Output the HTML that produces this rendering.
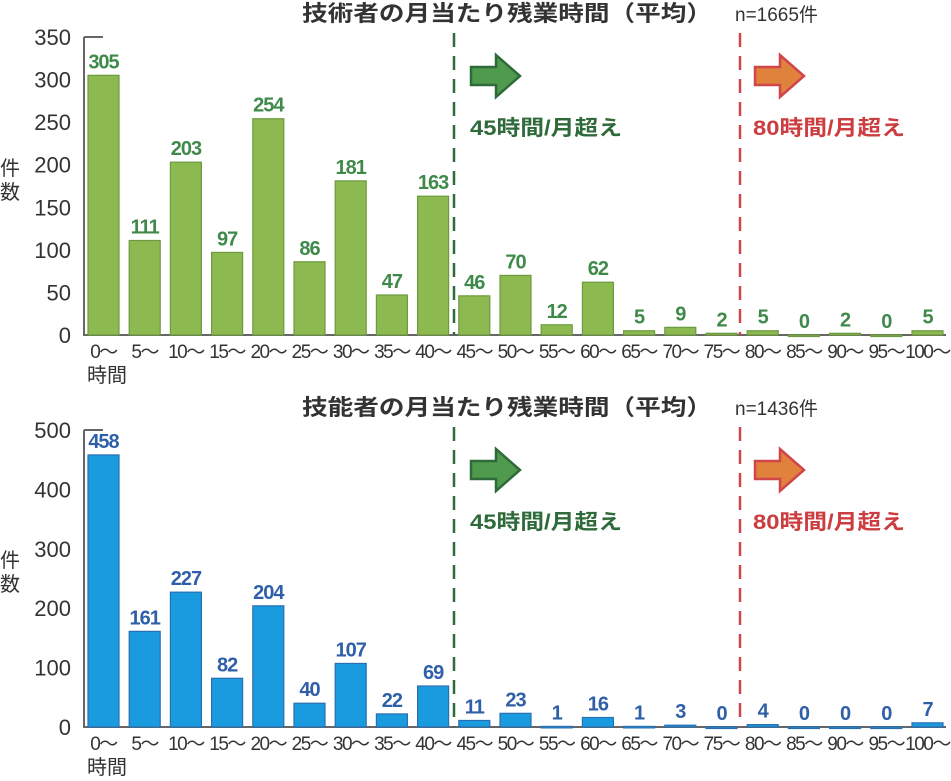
<!DOCTYPE html>
<html><head><meta charset="utf-8"><style>
html,body{margin:0;padding:0;background:#fff;width:951px;height:781px;overflow:hidden}
svg{display:block}
text{font-family:"Liberation Sans","Noto Sans CJK JP",sans-serif}
</style></head><body>
<svg id="s" width="951" height="781" xmlns="http://www.w3.org/2000/svg"></svg>
<script>
const s=document.getElementById('s');let h='';
const labs=['0～','5～','10～','15～','20～','25～','30～','35～','40～','45～','50～','55～','60～','65～','70～','75～','80～','85～','90～','95～','100～'];
function chart(o){
 const {y0,ymax,ppu,ticks,vals,fill,stroke,lc,title,n,ty}=o;
 h+=`<text x="507" y="${ty}" text-anchor="middle" font-size="22" font-weight="bold" fill="#333" textLength="410" lengthAdjust="spacingAndGlyphs">${title}</text>`;
 h+=`<text x="735" y="${ty}" font-size="19" fill="#333">${n}</text>`;
 const ytop=y0-ymax*ppu;
 h+=`<path d="M84 ${ytop}H103M84 ${ytop}V${y0}H946" stroke="#666" stroke-width="2" fill="none"/>`;
 for(const t of ticks){h+=`<text x="71" y="${y0-t*ppu+8}" text-anchor="end" font-size="22" fill="#333">${t}</text>`;}
 h+=`<text x="0" y="${y0-160}" font-size="20" fill="#333">件</text><text x="0" y="${y0-136}" font-size="20" fill="#333">数</text>`;
 vals.forEach((v,i)=>{
  const x=88+i*41.2,hh=v*ppu;
  h+=`<rect x="${x}" y="${y0-hh}" width="31" height="${Math.max(hh,1.5)}" fill="${fill}" stroke="${stroke}" stroke-width="1.2"/>`;
  h+=`<text x="${x+15.5}" y="${y0-hh-7}" text-anchor="middle" font-size="20" font-weight="bold" fill="${lc}" letter-spacing="-1">${v}</text>`;
  h+=`<text x="${x+15.5}" y="${y0+23}" text-anchor="middle" font-size="19" fill="#333" letter-spacing="-1.5">${labs[i]}</text>`;
 });
 h+=`<text x="87" y="${y0+47}" font-size="20" fill="#333">時間</text>`;
 h+=`<line x1="454" y1="${ty+12}" x2="454" y2="${y0}" stroke="#2f6b3a" stroke-width="2.5" stroke-dasharray="14,9"/>`;
 h+=`<line x1="740" y1="${ty+12}" x2="740" y2="${y0}" stroke="#d0454a" stroke-width="2.5" stroke-dasharray="14,9"/>`;
 const ay=ty+55;
 function arrow(x,f,st){return `<path d="M${x} ${ay-9}H${x+25}V${ay-21}L${x+49} ${ay}L${x+25} ${ay+21}V${ay+9}H${x}Z" fill="${f}" stroke="${st}" stroke-width="2.5"/>`;}
 h+=arrow(471,'#4f9a4c','#2f6b3a');
 h+=arrow(755,'#e0823c','#d0454a');
 h+=`<text x="470" y="${ty+114}" font-size="21" font-weight="bold" fill="#2f6b3a" textLength="152" lengthAdjust="spacingAndGlyphs">45時間/月超え</text>`;
 h+=`<text x="753" y="${ty+114}" font-size="21" font-weight="bold" fill="#cc3d40" textLength="152" lengthAdjust="spacingAndGlyphs">80時間/月超え</text>`;
}
chart({y0:335,ymax:350,ppu:298/350,ticks:[0,50,100,150,200,250,300,350],
 vals:[305,111,203,97,254,86,181,47,163,46,70,12,62,5,9,2,5,0,2,0,5],
 fill:'#8cba50',stroke:'#6d9a40',lc:'#3f8a4a',title:'技術者の月当たり残業時間（平均）',n:'n=1665件',ty:21});
chart({y0:727,ymax:500,ppu:297/500,ticks:[0,100,200,300,400,500],
 vals:[458,161,227,82,204,40,107,22,69,11,23,1,16,1,3,0,4,0,0,0,7],
 fill:'#1a9be0',stroke:'#2a6fb0',lc:'#2f5fa8',title:'技能者の月当たり残業時間（平均）',n:'n=1436件',ty:415});
s.innerHTML=h;
</script>
</body></html>
